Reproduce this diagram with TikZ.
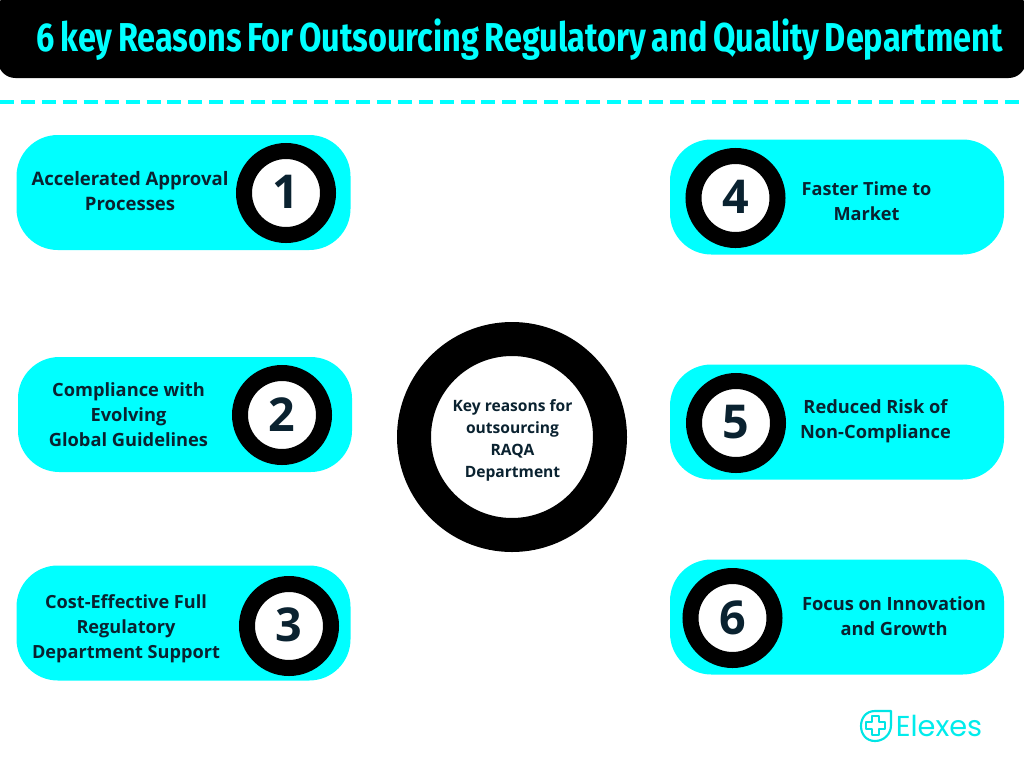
\documentclass[tikz,border=0pt]{standalone}
\usepackage{fontspec}
\usepackage{graphicx}
\setmainfont{Open Sans}
\newfontfamily\titlefont[WordSpace=0.7]{Fira Sans}
\newfontfamily\logofont{Poppins}
\definecolor{cy}{HTML}{00FFFF}
\definecolor{ink}{HTML}{0A2230}
\tikzset{
 x=0.75pt,y=-0.75pt,
 pill/.style={fill=cy,draw=none,rounded corners=31pt,minimum width=334*0.75pt,minimum height=115*0.75pt,inner sep=0pt},
 ring/.style={circle,draw=black,line width=16*0.75pt,fill=white,minimum size=84*0.75pt,inner sep=0pt,font=\fontsize{35}{35}\selectfont\bfseries,text=ink},
 lab/.style={align=center,font=\fontsize{13.7}{18.75}\selectfont\bfseries,text=ink,inner sep=0pt},
}
\begin{document}
\begin{tikzpicture}
\useasboundingbox (0,0) rectangle (1024,768);
\fill[white] (0,0) rectangle (1024,768);
\node[fill=black,rounded corners=13pt,minimum width=1028*0.75pt,minimum height=86*0.75pt,inner sep=0pt] (banner) at (512,35) {};
\node[anchor=center,inner sep=0pt,text=cy] (title) at (520,40) {\resizebox{724.5pt}{24.5pt}{\titlefont\bfseries 6 key Reasons For Outsourcing Regulatory and Quality Department}};
\draw[cy,line width=3pt,dash pattern=on 10.5pt off 5.2pt] (0,102) coordinate (dl) -- (1024,102) coordinate (dr);

\node[pill] (p1) at (183.5,192.5) {};
\node[pill] (p2) at (185,414.5) {};
\node[pill] (p3) at (183.5,623) {};
\node[pill] (p4) at (837,197) {};
\node[pill] (p5) at (837,422) {};
\node[pill] (p6) at (837,617) {};

\node[ring] (n1) at (286,193) {\raisebox{1pt}{1}};
\node[ring] (n2) at (282,415) {\raisebox{1pt}{2}};
\node[ring] (n3) at (289,626) {\raisebox{1.5pt}{3}};
\node[ring] (n4) at (735.5,198) {\raisebox{1pt}{4}};
\node[ring] (n5) at (736,423) {\raisebox{1pt}{5}};
\node[ring] (n6) at (732.5,618) {\raisebox{1pt}{6}};

\node[lab,font=\fontsize{13.9}{18.75}\selectfont\bfseries] (t1) at (130,191) {Accelerated Approval\\Processes};
\node[lab] (t2) at (128.5,414.5) {Compliance with\\Evolving\\Global Guidelines};
\node[lab,font=\fontsize{13.6}{18.75}\selectfont\bfseries] (t3) at (126,628.5) {Cost-Effective Full\\Regulatory\\Department Support};
\node[lab,font=\fontsize{13.6}{18.75}\selectfont\bfseries] (t4) at (866.5,201) {Faster Time to\\Market};
\node[lab] (t5) at (875.5,421) {Reduced Risk of\\Non-Compliance};
\node[lab] (t6) at (894,616) {Focus on Innovation\\and Growth};

\node[circle,draw=black,line width=34*0.75pt,fill=white,minimum size=196*0.75pt,inner sep=0pt] (hub) at (512,437) {};
\node[align=center,font=\fontsize{11.7}{16.5}\selectfont\bfseries,text=ink,inner sep=0pt] (hubt) at (512.5,440) {Key reasons for\\outsourcing\\RAQA\\Department};

% logo
\begin{scope}[line width=1.6pt,line join=round]
\draw[cy!80!teal] (875,711) -- (891,711) -- (891,725) .. controls (891,734) and (884,741) .. (875,741) .. controls (866,741) and (861,734) .. (861,726) .. controls (861,718) and (866,711) .. (875,711);
\draw[cy!80!teal,fill=white] (872,716) -- (879,716) -- (879,722) -- (885,722) -- (885,729) -- (879,729) -- (879,735) -- (872,735) -- (872,729) -- (866,729) -- (866,722) -- (872,722) -- cycle;
\end{scope}
\node[anchor=center,inner sep=0pt,text=cy!85!teal,font=\fontsize{21.6}{21.6}\selectfont\logofont] (logo) at (939,726) {Elexes};
\end{tikzpicture}
\end{document}
